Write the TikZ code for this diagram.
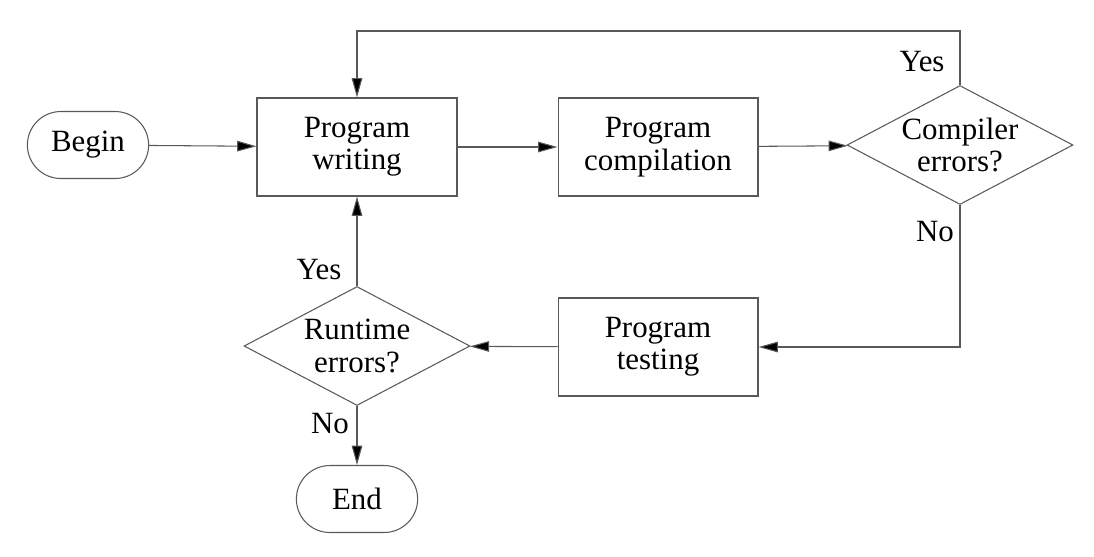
\documentclass[tikz,border=0pt]{standalone}
\usepackage{fontspec}
\setmainfont{LiberationSerif}[Extension=.ttf, UprightFont=*-Regular, BoldFont=*-Bold]
\usetikzlibrary{shapes.geometric,shapes.misc,arrows.meta}

\tikzset{
  stepbox/.style={draw=black!65, rectangle, minimum width=4cm, minimum height=1.96cm, align=center},
  terminal/.style={draw=black!65, rounded rectangle, minimum width=2.66cm, minimum height=1.34cm},
  decision/.style={draw=black!65, diamond, aspect=1.88, inner sep=0pt, minimum width=4.52cm, minimum height=2.38cm, align=center},
  flow/.style={draw=black!65, line width=0.6pt, -{Triangle[length=11pt,width=6pt,fill=black]}}
}

\begin{document}
\begin{tikzpicture}[x=0.02cm, y=-0.02cm, line width=0.6pt,
  font=\fontsize{17.6}{18.4}\selectfont]
\useasboundingbox (0,0) rectangle (1094,556);

\begin{scope}
\node[terminal] (begin) at (88,145) {Begin};
\node[stepbox] (write) at (357,147) {Program\\writing};
\node[stepbox] (compile) at (658,147) {Program\\compilation};
\node[decision] (cerr) at (960,145) {Compiler\\errors?};
\node[stepbox] (test) at (658,347) {Program\\testing};
\node[decision] (rerr) at (357,346) {Runtime\\errors?};
\node[terminal] (end) at (357,499) {End};

\coordinate (yesturn) at (960,31);

\draw[flow] (begin) -- (write);
\draw[flow] (write) -- (compile);
\draw[flow] (compile) -- (cerr);
\draw[flow] (cerr.north) -- (yesturn) -| (write.north);
\draw[flow] (cerr.south) |- (test.east);
\draw[flow] (test) -- (rerr);
\draw[flow] (rerr.north) -- (write.south);
\draw[flow] (rerr.south) -- (end.north);

\node (yes1) at (922,62) {Yes};
\node (no1) at (935,232) {No};
\node (yes2) at (319,270) {Yes};
\node (no2) at (330,424) {No};

%\draw[red] (0,0) rectangle (1094,556);
\end{scope}

\end{tikzpicture}
\end{document}
